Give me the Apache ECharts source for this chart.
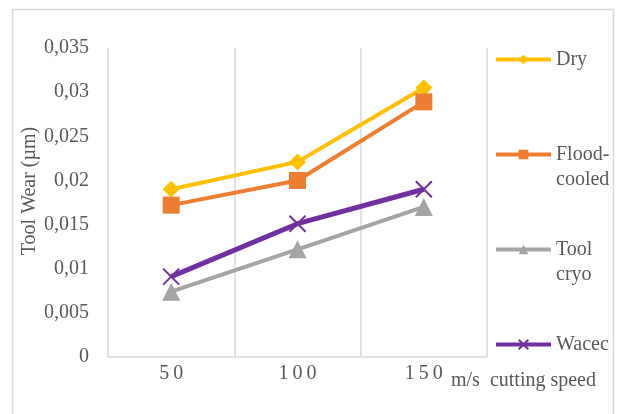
<!DOCTYPE html>
<html>
<head>
<meta charset="utf-8">
<style>
  html, body { margin: 0; padding: 0; background: #ffffff; }
  #chart { width: 624px; height: 414px; }
</style>
<script src="https://cdn.jsdelivr.net/npm/echarts@6/dist/echarts.min.js"></script>
</head>
<body>
<div id="chart"></div>
<script>
// Cutting speed categories (m/s)
const categories = ['50', '100', '150'];

// Tool wear per cooling strategy (µm)
const dry = [0.0190, 0.0221, 0.0305];
const floodCooled = [0.0172, 0.0200, 0.0289];
const toolCryo = [0.0074, 0.0122, 0.0170];
const wacec = [0.0091, 0.0151, 0.0190];

// Value axis ticks
const yMin = 0;
const yMax = 0.035;
const yStep = 0.005;

const FONT = '"Liberation Serif", "Times New Roman", serif';
const TEXT = '#595959';
const GRID_LINE = '#d9d9d9';

const crossPath = 'path://M0,0L10,10M10,0L0,10';

// Legend entries wrap like a narrow text column; the blank first line keeps
// the marker level with the first line of the label.
const legendLabels = {
  'Dry': ' \nDry\n ',
  'Flood-cooled': ' \nFlood-\ncooled',
  'Tool cryo': ' \nTool\ncryo',
  'Wacec': ' \nWacec\n '
};

function decimalComma(v) {
  if (v === 0) return '0';
  return String(parseFloat(v.toFixed(3))).replace('.', ',');
}

const chart = echarts.init(document.getElementById('chart'), null, { renderer: 'canvas' });

chart.setOption({
  animation: false,
  backgroundColor: '#ffffff',
  textStyle: { fontFamily: FONT },
  grid: {
    left: 108,
    right: 137,
    top: 48,
    bottom: 57,
    containLabel: false,
    outerBoundsMode: 'none'
  },
  legend: {
    orient: 'vertical',
    left: 494,
    top: 22,
    padding: 0,
    itemWidth: 55,
    itemHeight: 12,
    itemGap: 20,
    selectedMode: false,
    formatter: name => legendLabels[name] || name,
    lineStyle: { width: 4 },
    textStyle: {
      fontFamily: FONT,
      fontSize: 20,
      lineHeight: 25,
      color: TEXT
    },
    data: ['Dry', 'Flood-cooled', 'Tool cryo', 'Wacec']
  },
  xAxis: {
    type: 'category',
    data: categories,
    boundaryGap: true,
    axisLine: { show: true, lineStyle: { color: GRID_LINE, width: 1.5 } },
    axisTick: { show: false },
    splitLine: { show: true, lineStyle: { color: GRID_LINE, width: 1.5 } },
    axisLabel: {
      margin: 7,
      fontFamily: FONT,
      fontSize: 20,
      color: TEXT,
      formatter: v => v.split('').join('\u2009')
    }
  },
  yAxis: {
    type: 'value',
    min: yMin,
    max: yMax,
    interval: yStep,
    axisLine: { show: false },
    axisTick: { show: false },
    splitLine: { show: false },
    axisLabel: {
      margin: 19,
      fontFamily: FONT,
      fontSize: 20,
      color: TEXT,
      formatter: decimalComma
    }
  },
  graphic: [
    {
      type: 'rect',
      silent: true,
      shape: { x: 12.5, y: 9.5, width: 601, height: 420 },
      style: { fill: 'none', stroke: GRID_LINE, lineWidth: 1.5 }
    },
    {
      type: 'text',
      silent: true,
      x: 30,
      y: 191,
      rotation: Math.PI / 2,
      style: {
        text: 'Tool Wear (µm)',
        font: '20px ' + FONT,
        fill: TEXT,
        align: 'center',
        verticalAlign: 'middle'
      }
    },
    {
      type: 'text',
      silent: true,
      x: 451,
      y: 381,
      style: {
        text: 'm/s  cutting speed',
        font: '20px ' + FONT,
        fill: TEXT,
        align: 'left',
        verticalAlign: 'middle'
      }
    }
  ],
  series: [
    {
      name: 'Dry',
      type: 'line',
      data: dry,
      symbol: 'diamond',
      symbolSize: 17,
      lineStyle: { color: '#FFC000', width: 4 },
      itemStyle: { color: '#FFC000' }
    },
    {
      name: 'Flood-cooled',
      type: 'line',
      data: floodCooled,
      symbol: 'rect',
      symbolSize: 17,
      lineStyle: { color: '#ED7D31', width: 4 },
      itemStyle: { color: '#ED7D31' }
    },
    {
      name: 'Tool cryo',
      type: 'line',
      data: toolCryo,
      symbol: 'triangle',
      symbolSize: 18,
      lineStyle: { color: '#A5A5A5', width: 4 },
      itemStyle: { color: '#A5A5A5' }
    },
    {
      name: 'Wacec',
      type: 'line',
      data: wacec,
      symbol: crossPath,
      symbolSize: 16,
      lineStyle: { color: '#7030A0', width: 5 },
      itemStyle: { color: '#7030A0', borderColor: '#7030A0', borderWidth: 2 }
    }
  ]
});
</script>
</body>
</html>
